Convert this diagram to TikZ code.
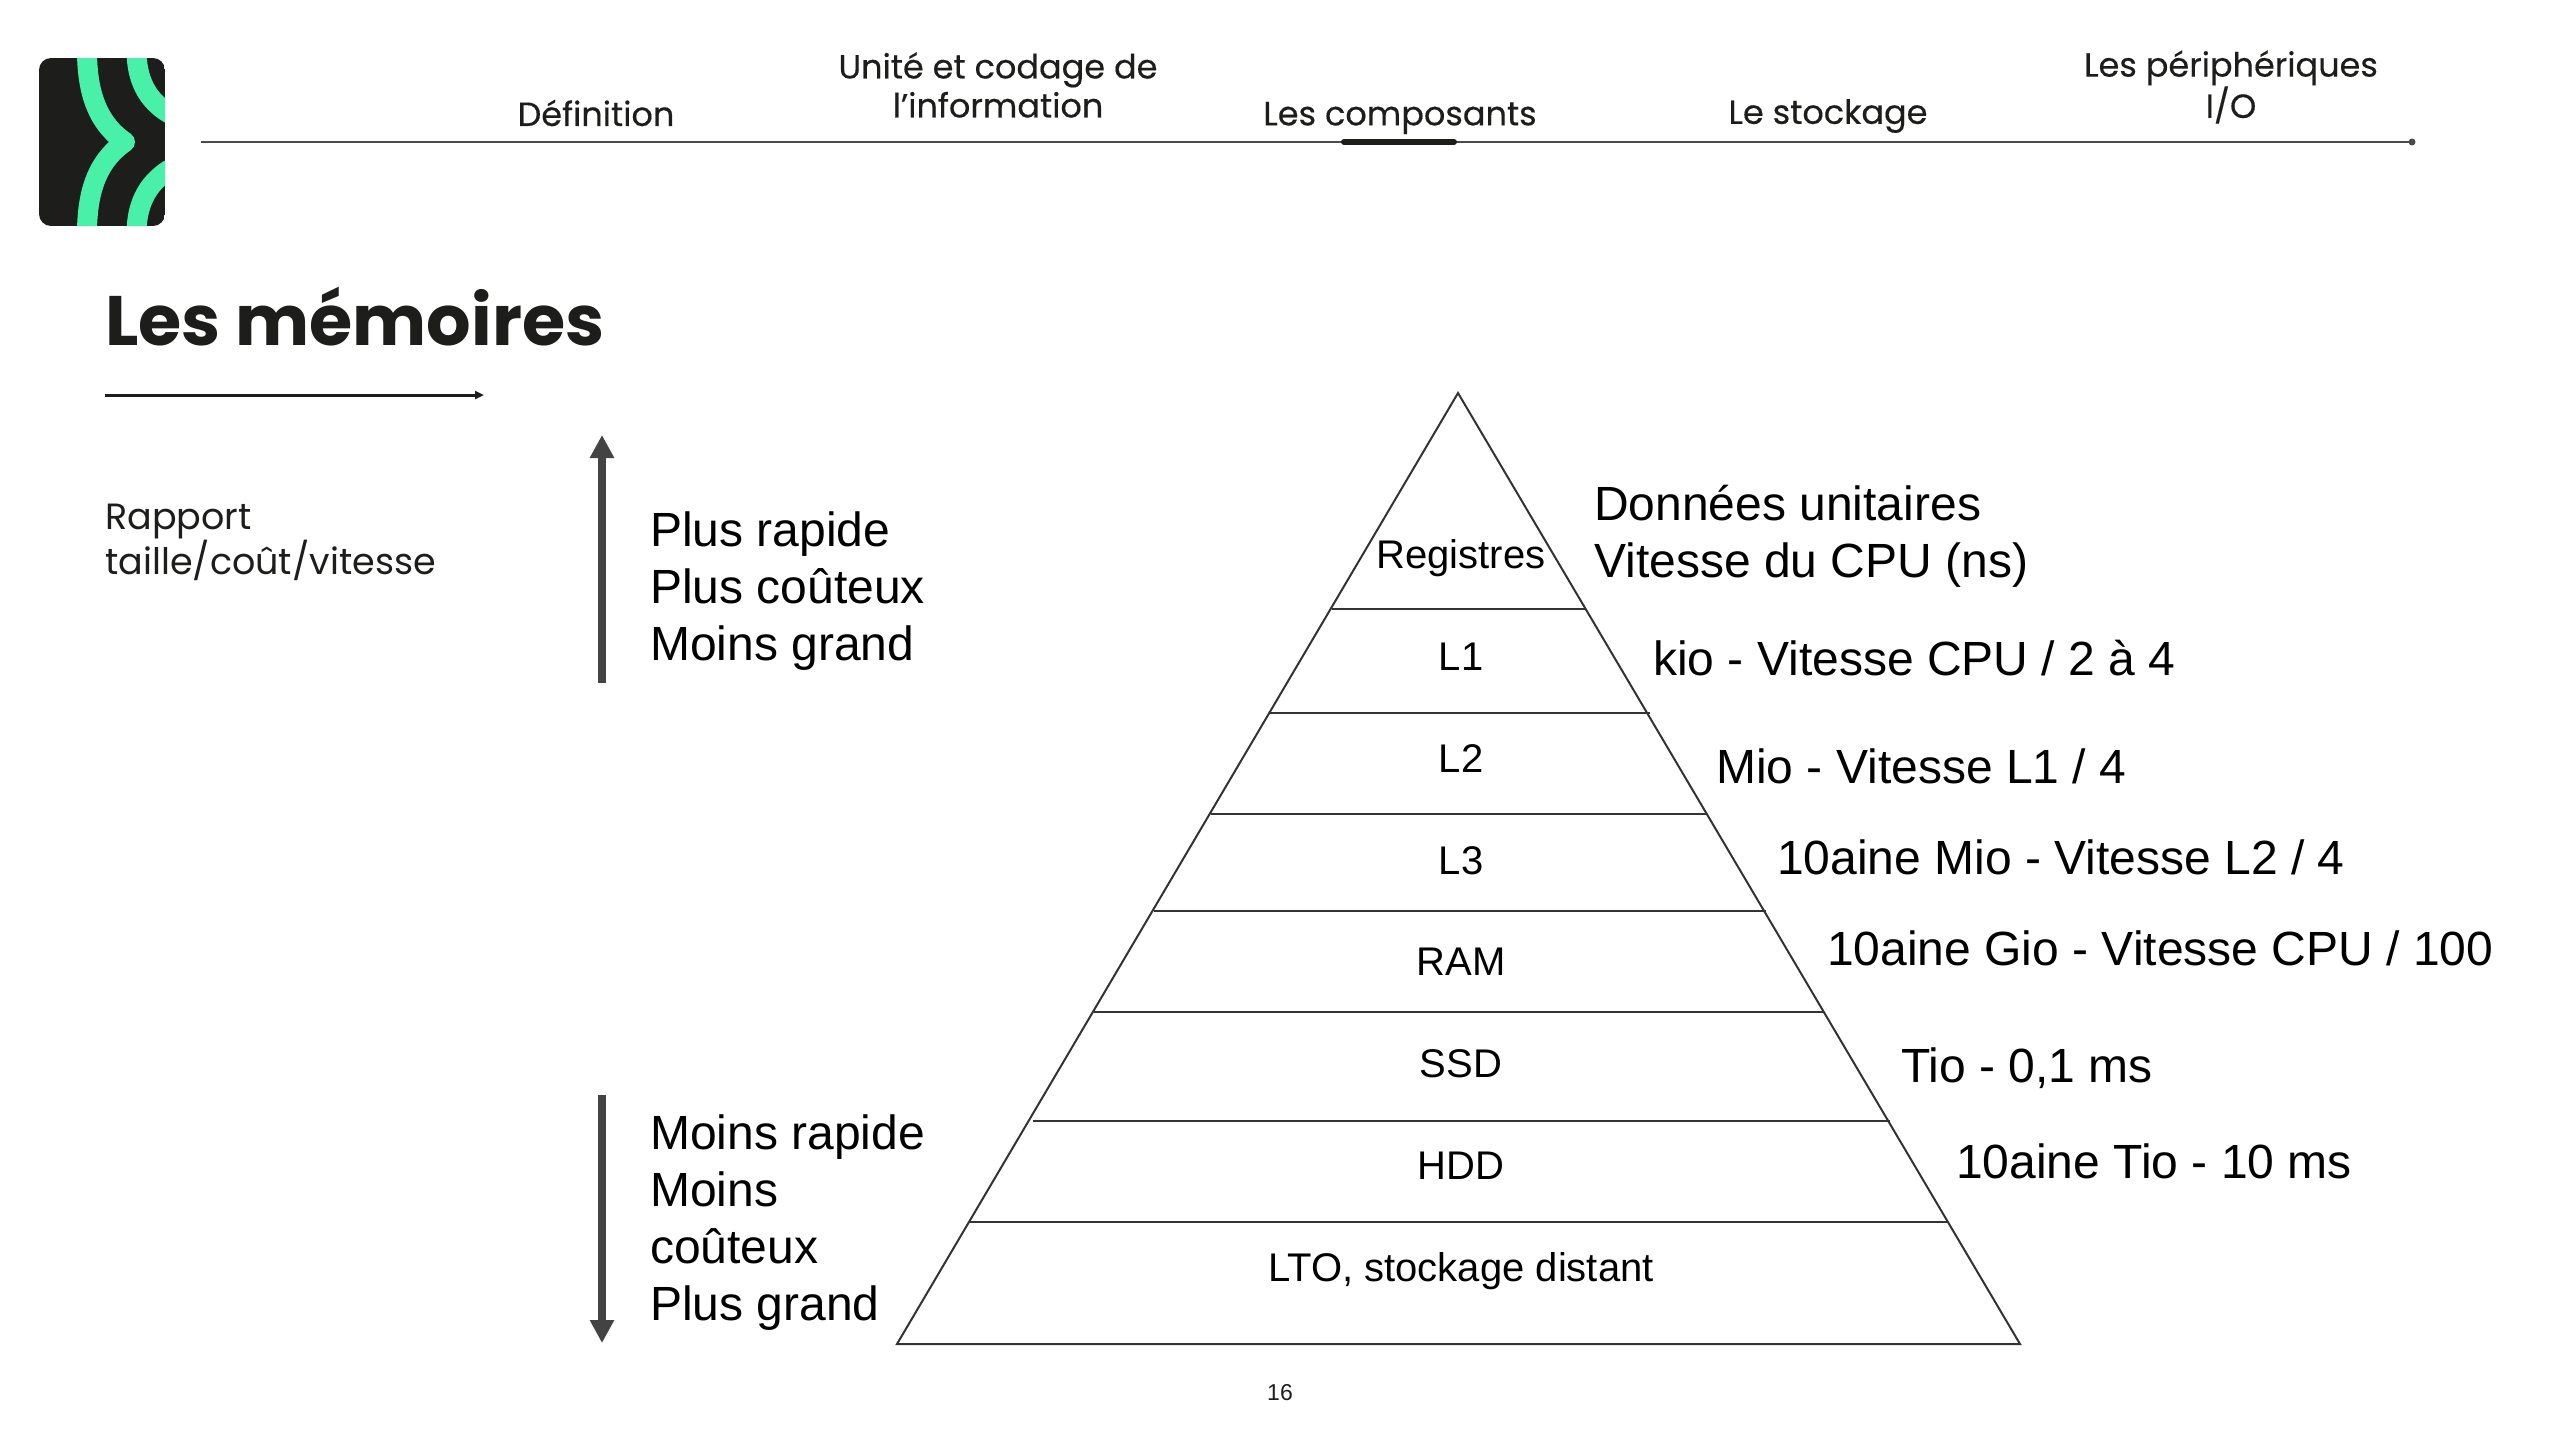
\documentclass[tikz,border=0pt]{standalone}
\usepackage{fontspec}
\setmainfont{Liberation Sans}
\newfontfamily\headfont{Poppins}
\newfontfamily\navfont[FakeBold=0.35]{Poppins}
\usepackage{tikz}
\usetikzlibrary{arrows.meta,positioning,calc}
\definecolor{inkdark}{HTML}{1D1D1B}
\definecolor{logogreen}{HTML}{48F0A8}
\definecolor{railgrey}{HTML}{4A4A4A}
\definecolor{arrowgrey}{HTML}{434343}
\begin{document}
\begin{tikzpicture}[x=1pt,y=-1pt,>=Latex]
\tikzstyle{navitem}=[font=\navfont\fontsize{33.5}{39}\selectfont,text=inkdark,align=center,inner sep=0pt]
\tikzstyle{sidetext}=[font=\fontsize{48}{57}\selectfont,text=black,align=left,anchor=west,inner sep=0pt]
\tikzstyle{speedtext}=[font=\fontsize{48}{57}\selectfont,text=black,align=left,anchor=west,inner sep=0pt]
\tikzstyle{levelname}=[font=\fontsize{40}{48}\selectfont,text=black,inner sep=0pt]
\tikzstyle{bigarrow}=[line width=8pt,draw=arrowgrey,-{Triangle[length=23pt,width=23pt]}]
\tikzstyle{pyrline}=[draw=black!80,line width=2pt]
\useasboundingbox (0,0) rectangle (2560,1440);
% logo
\begin{scope}
\clip[rounded corners=12pt] (39,58) rectangle (165,226);
\fill[inkdark] (39,58) rectangle (165,226);
\draw[logogreen,line width=20pt,line join=round] (87,50) .. controls (87,90) and (96,122) .. (125,142) .. controls (96,162) and (87,194) .. (87,234);
\draw[logogreen,line width=20pt] (136.5,50) .. controls (136.5,78) and (146,100) .. (170,114);
\draw[logogreen,line width=20pt] (136.5,234) .. controls (136.5,206) and (146,184) .. (170,169);
\end{scope}
% nav rail
\coordinate (railstart) at (201,142);
\coordinate (railend) at (2412,142);
\draw[railgrey,line width=1.5pt] (railstart) -- (railend);
\node[circle,fill=railgrey,inner sep=0pt,minimum size=7pt] (raildot) at (railend) {};
\coordinate (markstart) at (1344,142);
\coordinate (markend) at (1454,142);
\draw[inkdark,line width=6pt,line cap=round] (markstart) -- (markend);
\foreach \nm/\cx/\cy/\lbl in {a/596/113/{Définition},b/998/85/{Unité et codage de\\l’information},c/1400/118/{Les composants},d/1828/116/{Le stockage},e/2231/87/{Les périphériques\\I/O}}{
    \node[navitem] (nav\nm) at (\cx,\cy) {\lbl};
}
% title
\node[font=\headfont\bfseries\fontsize{70}{80}\selectfont,text=inkdark,anchor=west,inner sep=0pt] (title) at (105,317) {Les mémoires};
\coordinate (rulestart) at (105,395);
\coordinate (ruleend) at (484,395);
\draw[inkdark,line width=3pt,-{Triangle[length=9pt,width=8pt]}] (rulestart) -- (ruleend);
\node[font=\headfont\fontsize{36.5}{43}\selectfont,text=inkdark,align=left,anchor=west,inner sep=0pt] (rapport) at (105,542) {Rapport\\taille/coût/vitesse};
% left column
\coordinate (upbot) at (602,683);
\coordinate (uptop) at (602,435);
\coordinate (downtop) at (602,1095);
\coordinate (downbot) at (602,1343);
\draw[bigarrow] (upbot) -- (uptop);
\draw[bigarrow] (downtop) -- (downbot);
\node[sidetext] (fast) at (650,591) {Plus rapide\\Plus coûteux\\Moins grand};
\node[sidetext] (slow) at (650,1223) {Moins rapide\\Moins\\coûteux\\Plus grand};
% pyramid
\coordinate (apex) at (1458,393);
\coordinate (baseL) at (897,1344);
\coordinate (baseR) at (2020,1344);
\draw[pyrline] (apex) -- (baseL) -- (baseR) -- cycle;
\foreach \nm/\ya/\xl/\xr in {a/609/1332/1586,b/713/1270/1650,c/814/1211/1706,d/911/1154/1766,e/1012/1094/1824,f/1121/1033/1890,g/1222/970/1948}{
    \coordinate (l\nm) at (\xl,\ya);
    \coordinate (r\nm) at (\xr,\ya);
    \draw[pyrline] (l\nm) -- (r\nm);
}
\foreach \nm/\cy/\lbl in {reg/558/Registres,la/657/L1,lb/759/L2,lc/861/L3,ram/962/RAM,ssd/1064/SSD,hdd/1166/HDD,lto/1271/{LTO, stockage distant}}{
    \node[levelname] (\nm) at (1461,\cy) {\lbl};
}
% speed labels
\foreach \nm/\cx/\cy/\lbl in {sa/1594/536/{Données unitaires\\Vitesse du CPU (ns)},sb/1653/658/{kio - Vitesse CPU / 2 à 4},sc/1716/766/{Mio - Vitesse L1 / 4},sd/1777/857/{10aine Mio - Vitesse L2 / 4},se/1827/948/{10aine Gio - Vitesse CPU / 100},sf/1901/1068/{Tio - 0,1 ms},sg/1956/1161/{10aine Tio - 10 ms}}{
    \node[speedtext] (\nm) at (\cx,\cy) {\lbl};
}
\node[font=\fontsize{23}{28}\selectfont,text=inkdark,inner sep=0pt] (pagenum) at (1280,1393) {16};
\end{tikzpicture}
\end{document}
